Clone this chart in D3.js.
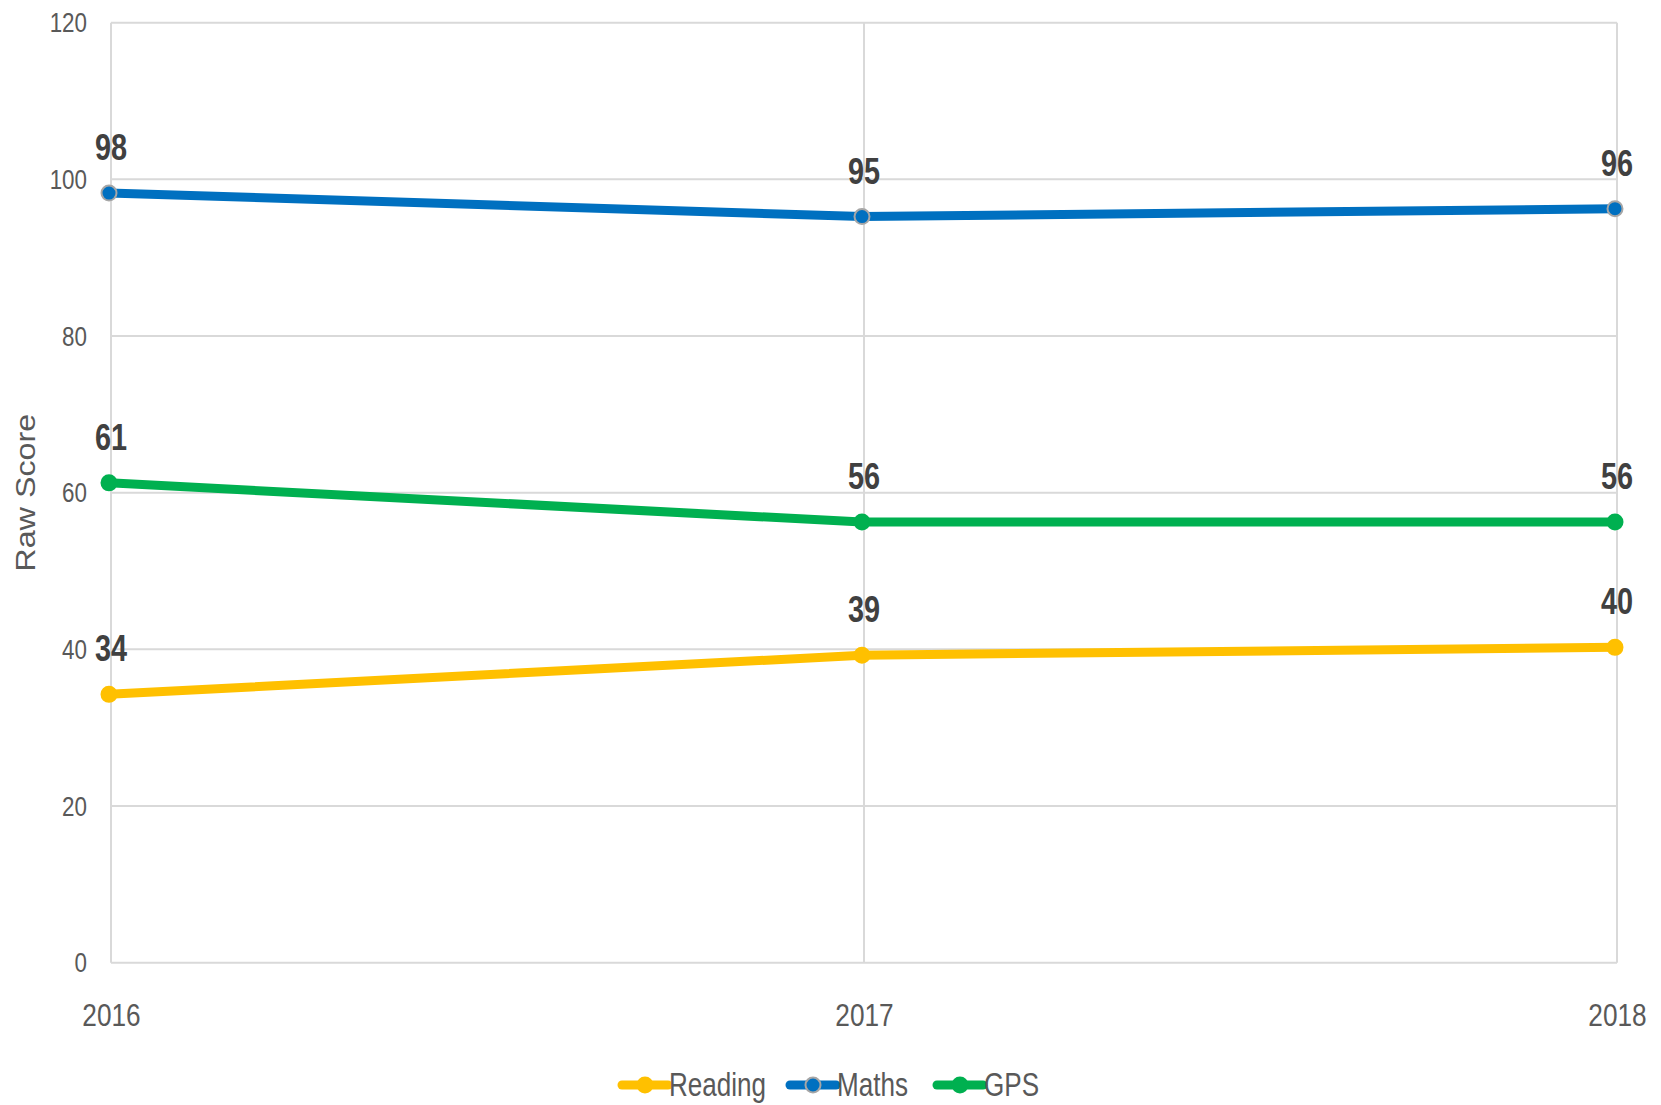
<!DOCTYPE html>
<html>
<head>
<meta charset="utf-8">
<script src="https://cdn.jsdelivr.net/npm/d3@7"></script>
<style>
    body { margin: 0; background: white; }
    #chart text { font-family: "Liberation Sans", Arial, sans-serif; }
</style>
</head>
<body>
<div id="chart"></div>
<script>
let years = ["2016", "2017", "2018"];
let reading = [34, 39, 40];
let maths = [98, 95, 96];
let gps = [61, 56, 56];
let yTicks = [0, 20, 40, 60, 80, 100, 120];

let series = [
    {name: "Reading", values: reading, color: "#FFC000", stroke: "#FFC000"},
    {name: "Maths", values: maths, color: "#0070C0", stroke: "#A6A6A6"},
    {name: "GPS", values: gps, color: "#00B050", stroke: "#00B050"}
];

let margin = {top: 22.7, right: 44, bottom: 142.3, left: 111},
    width = 1661 - margin.left - margin.right,
    height = 1105 - margin.top - margin.bottom;

// squeeze text horizontally, the original font is a narrow one
let narrow = function(sel, k) {
    sel.each(function() {
        let t = d3.select(this);
        let tx = +t.attr("x") || 0, ty = +t.attr("y") || 0;
        t.attr("x", null).attr("y", null)
            .attr("transform", "translate(" + tx + "," + ty + ") scale(" + k + ",1)");
    });
}

let svg = d3.select("#chart")
    .append("svg")
        .attr("width", 1661)
        .attr("height", 1105)
    .append("g")
        .attr("transform", "translate(" + margin.left + "," + margin.top + ")");

let x = d3.scalePoint()
    .domain(years)
    .range([0, width]);

let y = d3.scaleLinear()
    .domain([0, 120])
    .range([height, 0]);

// gridlines
svg.append("g")
    .selectAll("line")
    .data(yTicks)
    .enter()
    .append("line")
        .attr("x1", 0)
        .attr("x2", width)
        .attr("y1", d => y(d))
        .attr("y2", d => y(d))
        .attr("stroke", "#D9D9D9")
        .attr("stroke-width", 2);

svg.append("g")
    .selectAll("line")
    .data(years)
    .enter()
    .append("line")
        .attr("x1", d => x(d))
        .attr("x2", d => x(d))
        .attr("y1", 0)
        .attr("y2", height)
        .attr("stroke", "#D9D9D9")
        .attr("stroke-width", 2);

// axes
let yAxis = svg.append("g")
    .call(d3.axisLeft(y).tickValues(yTicks).tickSize(0).tickPadding(24));
yAxis.select(".domain").remove();
yAxis.selectAll("text")
    .attr("fill", "#595959")
    .style("font-size", "28px")
    .call(narrow, 0.8);

let xAxis = svg.append("g")
    .attr("transform", "translate(0," + height + ")")
    .call(d3.axisBottom(x).tickSize(0).tickPadding(0));
xAxis.select(".domain").remove();
xAxis.selectAll("text")
    .attr("dy", null)
    .attr("y", 63)
    .attr("fill", "#595959")
    .style("font-size", "32px")
    .call(narrow, 0.82);

svg.append("text")
    .attr("transform", "translate(" + (25 - margin.left) + "," + (height / 2) + ") rotate(-90)")
    .attr("text-anchor", "middle")
    .attr("dy", "0.35em")
    .attr("fill", "#595959")
    .attr("textLength", 158)
    .attr("lengthAdjust", "spacingAndGlyphs")
    .style("font-size", "28px")
    .text("Raw Score");

// lines, markers and labels
let line = d3.line()
    .x((d, i) => x(years[i]))
    .y(d => y(d));

let marks = svg.append("g")
    .attr("transform", "translate(-2,-2)");

series.forEach(function(s) {
    marks.append("path")
        .datum(s.values)
        .attr("d", line)
        .attr("fill", "none")
        .attr("stroke", s.color)
        .attr("stroke-width", 9)
        .attr("stroke-linejoin", "round");

    marks.selectAll(".pt-" + s.name)
        .data(s.values)
        .enter()
        .append("circle")
            .attr("cx", (d, i) => x(years[i]))
            .attr("cy", d => y(d))
            .attr("r", 7.5)
            .attr("fill", s.color)
            .attr("stroke", s.stroke)
            .attr("stroke-width", 2);
});

series.forEach(function(s) {
    marks.selectAll(".lbl-" + s.name)
        .data(s.values)
        .enter()
        .append("text")
            .attr("x", (d, i) => x(years[i]) + 2)
            .attr("y", d => y(d) - 33)
            .attr("text-anchor", "middle")
            .attr("fill", "#404040")
            .style("font-size", "37px")
            .style("font-weight", "bold")
            .text(d => d)
            .call(narrow, 0.78);
});

// legend
let legend = svg.append("g")
    .attr("transform", "translate(" + (622 - margin.left) + "," + (1085 - margin.top) + ")");

let offsets = [0, 168, 315];
series.forEach(function(s, i) {
    let g = legend.append("g")
        .attr("transform", "translate(" + offsets[i] + ",0)");
    g.append("line")
        .attr("x1", 0)
        .attr("x2", 46)
        .attr("stroke", s.color)
        .attr("stroke-width", 9)
        .attr("stroke-linecap", "round");
    g.append("circle")
        .attr("cx", 23)
        .attr("r", 7.5)
        .attr("fill", s.color)
        .attr("stroke", s.stroke)
        .attr("stroke-width", 2);
    g.append("text")
        .attr("x", 47)
        .attr("y", 11)
        .attr("fill", "#595959")
        .style("font-size", "33px")
        .text(s.name)
        .call(narrow, 0.79);
});
</script>
</body>
</html>
